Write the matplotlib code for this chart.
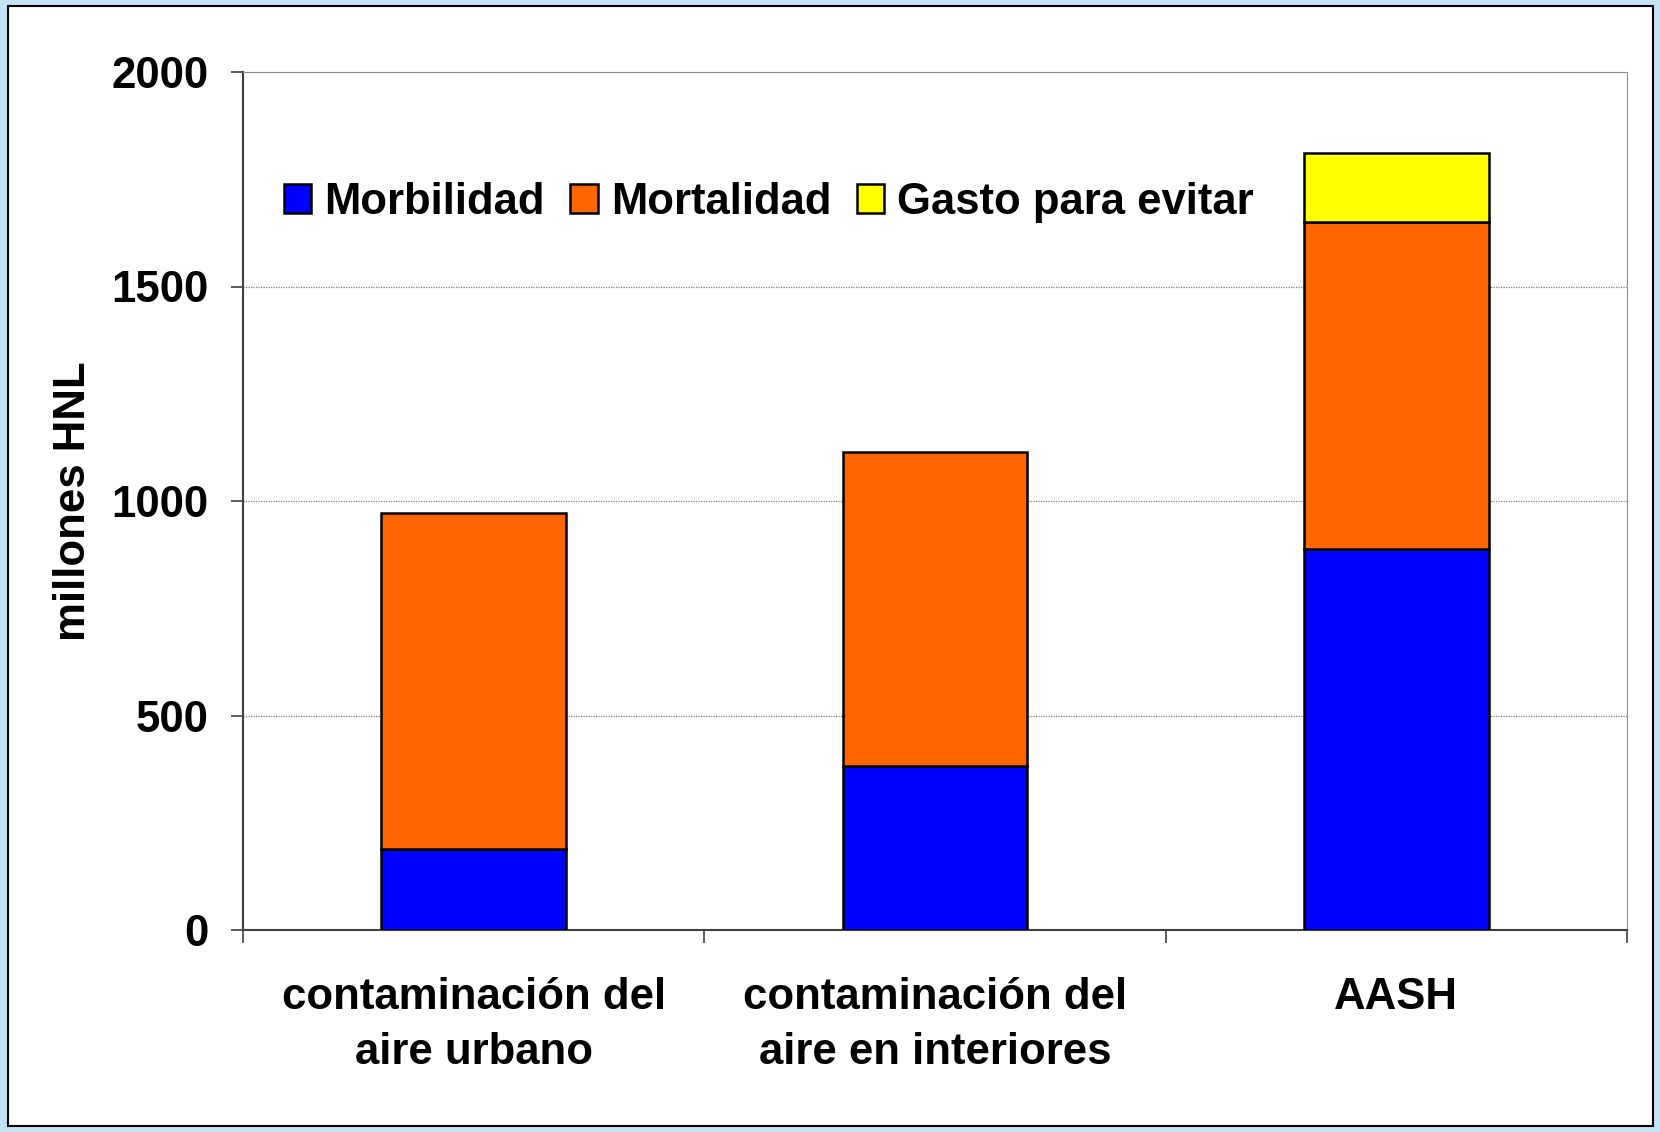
import matplotlib.pyplot as plt
import numpy as np
from matplotlib.patches import Rectangle

plt.rcParams['font.family'] = ['Liberation Sans', 'DejaVu Sans']
plt.rcParams['font.weight'] = 'bold'

categories = ['contaminación del\naire urbano', 'contaminación del\naire en interiores', 'AASH']
morbilidad = [188, 382, 887]
mortalidad = [784, 733, 764]
gasto = [0, 0, 161]
series_names = ['Morbilidad', 'Mortalidad', 'Gasto para evitar']
colors = ['#0000ff', '#ff6600', '#ffff00']

fig = plt.figure(figsize=(16.6, 11.32), dpi=100)
fig.patch.set_facecolor('#c3e2f4')
# white slide panel with black frame
fig.patches.append(Rectangle((8 / 1660, 1 - 1126 / 1132), 1645 / 1660, 1120 / 1132,
                             transform=fig.transFigure, facecolor='white',
                             edgecolor='black', lw=1.5, zorder=-5))

ax = fig.add_axes([243 / 1660, 1 - 930 / 1132, 1384 / 1660, 858 / 1132])
ax.set_zorder(2)
ax.set_facecolor('none')

x = np.arange(len(categories))
w = 0.4
bottom = np.zeros(len(categories))
for vals, name, c in zip([morbilidad, mortalidad, gasto], series_names, colors):
    vals = np.array(vals, dtype=float)
    mask = vals > 0
    ax.bar(x[mask], vals[mask], w, bottom=bottom[mask], color=c, edgecolor='black',
           lw=1.8, label=name, zorder=3)
    bottom += vals

ax.set_xlim(-0.5, 2.5)
ax.set_ylim(0, 2000)
ax.set_yticks([0, 500, 1000, 1500, 2000])
ax.yaxis.grid(True, linestyle=(0, (1, 1)), color='#808080', lw=0.9, zorder=0)

ax.set_xticks([-0.5, 0.5, 1.5, 2.5])
ax.set_xticklabels([])
ax.set_xticks(x, minor=True)
ax.set_xticklabels(categories, minor=True, fontsize=31.5, fontweight='bold', linespacing=1.43)
ax.tick_params(axis='x', which='minor', length=0, pad=34)
ax.tick_params(axis='x', which='major', length=9, width=1.2, color='#404040', direction='out')
ax.tick_params(axis='y', length=9, width=1.2, color='#404040', labelsize=31.5, pad=16)
for lab in ax.get_yticklabels():
    lab.set_fontweight('bold')

ax.spines['left'].set_color('#404040')
ax.spines['bottom'].set_color('#404040')
ax.spines['left'].set_linewidth(1.5)
ax.spines['bottom'].set_linewidth(1.5)
ax.spines['top'].set_color('#909090')
ax.spines['right'].set_color('#909090')

ax.set_ylabel('millones HNL', fontsize=31.5, fontweight='bold')
ax.yaxis.set_label_coords(-0.108, 0.5)

ax.legend(loc='center left', bbox_to_anchor=(0.017, 0.848), ncol=3, frameon=False,
          fontsize=31.4, handlelength=0.63, handleheight=0.63, handletextpad=0.3,
          columnspacing=0.58, borderaxespad=0)

fig.savefig('out.png', dpi=100, facecolor=fig.get_facecolor())
